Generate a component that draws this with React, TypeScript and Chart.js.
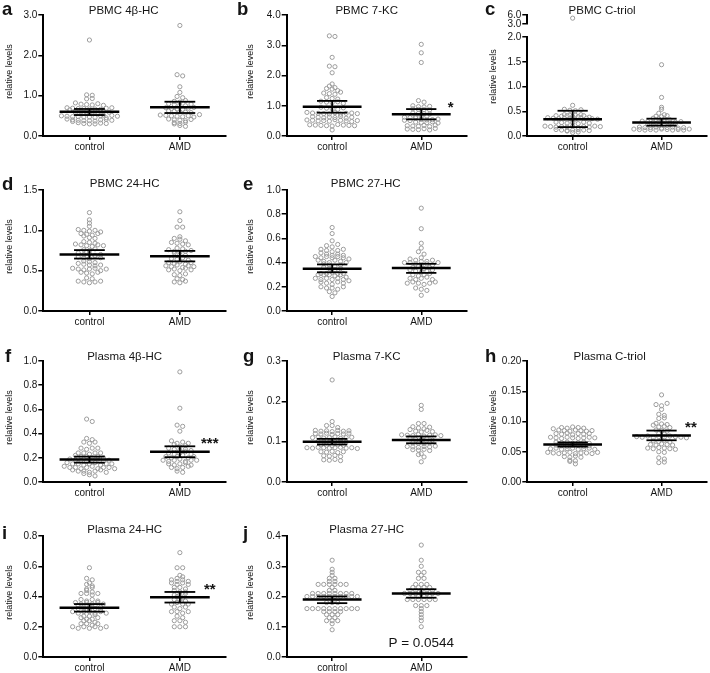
import React, { useEffect, useRef } from "react";
import { Chart, registerables } from "chart.js";
Chart.register(...registerables);

const FONT = '"Liberation Sans", Arial, Helvetica, sans-serif';
Chart.defaults.font.family = FONT;

const groups = ["control", "AMD"];

// ---------- data (relative levels) ----------
const aControl = [2.38, 1.02, 1.01, 0.92, 0.93, 0.82, 0.79, 0.78, 0.77, 0.8, 0.76, 0.7, 0.69, 0.68, 0.68, 0.67, 0.67, 0.66, 0.69, 0.7, 0.65, 0.62, 0.61, 0.6, 0.6, 0.59, 0.58, 0.58, 0.57, 0.61, 0.59, 0.56, 0.55, 0.52, 0.5, 0.49, 0.48, 0.48, 0.47, 0.47, 0.46, 0.5, 0.45, 0.51, 0.49, 0.42, 0.4, 0.39, 0.38, 0.38, 0.37, 0.36, 0.4, 0.41, 0.39, 0.33, 0.31, 0.3, 0.3, 0.32, 0.31];
const aAMD = [2.74, 1.52, 1.49, 1.22, 1.08, 0.98, 0.95, 0.86, 0.84, 0.88, 0.8, 0.78, 0.76, 0.75, 0.79, 0.7, 0.68, 0.67, 0.66, 0.69, 0.71, 0.62, 0.61, 0.6, 0.59, 0.58, 0.52, 0.51, 0.5, 0.49, 0.48, 0.5, 0.47, 0.53, 0.42, 0.4, 0.39, 0.38, 0.41, 0.33, 0.31, 0.34, 0.3, 0.26, 0.24];
const aMean = [0.6, 0.71];
const aLow = [0.52, 0.57];
const aHigh = [0.67, 0.85];

const bControl = [3.31, 3.29, 2.6, 2.31, 2.29, 2.09, 1.72, 1.65, 1.6, 1.57, 1.55, 1.5, 1.42, 1.4, 1.38, 1.45, 1.27, 1.24, 1.22, 1.15, 1.12, 1.1, 1.13, 1.08, 0.95, 0.92, 0.9, 0.88, 0.93, 0.78, 0.76, 0.75, 0.74, 0.73, 0.77, 0.72, 0.75, 0.76, 0.74, 0.64, 0.62, 0.6, 0.63, 0.61, 0.65, 0.59, 0.62, 0.53, 0.52, 0.5, 0.51, 0.49, 0.54, 0.52, 0.5, 0.48, 0.51, 0.37, 0.36, 0.35, 0.34, 0.33, 0.38, 0.36, 0.35, 0.34, 0.2];
const bAMD = [3.03, 2.75, 2.43, 1.17, 1.12, 1.0, 0.97, 0.96, 0.98, 0.9, 0.88, 0.87, 0.86, 0.76, 0.75, 0.74, 0.73, 0.64, 0.62, 0.61, 0.6, 0.63, 0.65, 0.55, 0.53, 0.52, 0.51, 0.54, 0.56, 0.46, 0.45, 0.44, 0.47, 0.43, 0.34, 0.33, 0.32, 0.35, 0.31, 0.36, 0.23, 0.22, 0.21, 0.24, 0.2, 0.25];
const bMean = [0.97, 0.72];
const bLow = [0.77, 0.55];
const bHigh = [1.16, 0.89];

const cControl = [4.95, 0.62, 0.54, 0.52, 0.51, 0.53, 0.43, 0.42, 0.41, 0.4, 0.42, 0.41, 0.43, 0.4, 0.39, 0.41, 0.37, 0.36, 0.35, 0.36, 0.35, 0.34, 0.37, 0.36, 0.35, 0.38, 0.34, 0.28, 0.27, 0.26, 0.27, 0.25, 0.28, 0.26, 0.2, 0.19, 0.18, 0.19, 0.18, 0.2, 0.17, 0.19, 0.18, 0.2, 0.19, 0.13, 0.12, 0.11, 0.12, 0.1, 0.13, 0.12, 0.11, 0.07, 0.08];
const cAMD = [1.44, 0.78, 0.58, 0.54, 0.46, 0.43, 0.4, 0.39, 0.41, 0.36, 0.35, 0.34, 0.33, 0.3, 0.29, 0.28, 0.29, 0.3, 0.27, 0.28, 0.29, 0.23, 0.22, 0.21, 0.22, 0.23, 0.24, 0.18, 0.17, 0.17, 0.18, 0.16, 0.17, 0.18, 0.16, 0.17, 0.14, 0.13, 0.12, 0.13, 0.12, 0.14, 0.13, 0.12, 0.13, 0.12, 0.14];
const cMean = [0.34, 0.275];
const cLow = [0.18, 0.21];
const cHigh = [0.51, 0.35];

const dControl = [1.22, 1.13, 1.09, 1.05, 1.01, 1.0, 0.99, 1.0, 0.98, 0.96, 0.95, 0.94, 0.96, 0.93, 0.91, 0.9, 0.86, 0.85, 0.84, 0.83, 0.82, 0.81, 0.8, 0.82, 0.81, 0.76, 0.75, 0.77, 0.72, 0.7, 0.71, 0.69, 0.7, 0.67, 0.66, 0.65, 0.68, 0.66, 0.62, 0.61, 0.6, 0.59, 0.58, 0.57, 0.56, 0.57, 0.53, 0.52, 0.51, 0.52, 0.53, 0.5, 0.52, 0.48, 0.47, 0.46, 0.48, 0.41, 0.4, 0.37, 0.36, 0.35, 0.36, 0.37];
const dAMD = [1.23, 1.12, 1.04, 1.04, 0.92, 0.9, 0.89, 0.87, 0.85, 0.84, 0.83, 0.82, 0.78, 0.77, 0.76, 0.74, 0.73, 0.72, 0.74, 0.75, 0.7, 0.69, 0.65, 0.64, 0.66, 0.63, 0.6, 0.59, 0.61, 0.58, 0.6, 0.56, 0.55, 0.57, 0.54, 0.56, 0.55, 0.51, 0.52, 0.5, 0.53, 0.51, 0.45, 0.44, 0.46, 0.4, 0.39, 0.36, 0.35, 0.37];
const dMean = [0.7, 0.68];
const dLow = [0.65, 0.615];
const dHigh = [0.755, 0.745];

const eControl = [0.69, 0.64, 0.58, 0.54, 0.53, 0.55, 0.51, 0.5, 0.49, 0.5, 0.51, 0.48, 0.47, 0.46, 0.47, 0.45, 0.44, 0.45, 0.46, 0.44, 0.45, 0.44, 0.43, 0.42, 0.41, 0.4, 0.42, 0.41, 0.4, 0.39, 0.38, 0.37, 0.38, 0.36, 0.35, 0.34, 0.35, 0.31, 0.3, 0.31, 0.3, 0.32, 0.31, 0.3, 0.29, 0.3, 0.31, 0.27, 0.26, 0.27, 0.28, 0.26, 0.27, 0.26, 0.25, 0.24, 0.23, 0.22, 0.24, 0.23, 0.2, 0.19, 0.19, 0.18, 0.2, 0.16, 0.15, 0.12];
const eAMD = [0.85, 0.68, 0.56, 0.52, 0.49, 0.47, 0.44, 0.43, 0.42, 0.41, 0.4, 0.41, 0.42, 0.4, 0.39, 0.38, 0.39, 0.38, 0.4, 0.36, 0.37, 0.35, 0.36, 0.34, 0.33, 0.32, 0.33, 0.34, 0.3, 0.29, 0.3, 0.31, 0.27, 0.26, 0.27, 0.28, 0.26, 0.23, 0.24, 0.23, 0.22, 0.23, 0.24, 0.19, 0.18, 0.17, 0.13];
const eMean = [0.35, 0.355];
const eLow = [0.32, 0.315];
const eHigh = [0.385, 0.39];

const fControl = [0.52, 0.5, 0.36, 0.35, 0.33, 0.32, 0.33, 0.28, 0.27, 0.28, 0.28, 0.24, 0.24, 0.23, 0.24, 0.24, 0.22, 0.21, 0.21, 0.2, 0.21, 0.2, 0.19, 0.18, 0.18, 0.17, 0.18, 0.19, 0.17, 0.18, 0.16, 0.15, 0.15, 0.14, 0.15, 0.16, 0.14, 0.15, 0.15, 0.13, 0.12, 0.12, 0.11, 0.12, 0.13, 0.11, 0.12, 0.12, 0.11, 0.1, 0.09, 0.09, 0.08, 0.09, 0.1, 0.08, 0.07, 0.06, 0.05];
const fAMD = [0.91, 0.61, 0.47, 0.46, 0.42, 0.34, 0.32, 0.31, 0.33, 0.32, 0.29, 0.3, 0.28, 0.27, 0.26, 0.27, 0.26, 0.24, 0.23, 0.24, 0.25, 0.23, 0.21, 0.2, 0.21, 0.22, 0.2, 0.21, 0.18, 0.17, 0.18, 0.19, 0.17, 0.18, 0.18, 0.15, 0.14, 0.15, 0.16, 0.14, 0.12, 0.11, 0.12, 0.13, 0.09, 0.08];
const fMean = [0.185, 0.25];
const fLow = [0.16, 0.205];
const fHigh = [0.21, 0.295];

const gControl = [0.253, 0.15, 0.14, 0.14, 0.135, 0.128, 0.126, 0.127, 0.125, 0.128, 0.126, 0.127, 0.12, 0.119, 0.121, 0.118, 0.12, 0.119, 0.121, 0.11, 0.111, 0.109, 0.11, 0.112, 0.108, 0.11, 0.111, 0.101, 0.1, 0.099, 0.1, 0.101, 0.099, 0.092, 0.091, 0.09, 0.092, 0.091, 0.085, 0.084, 0.086, 0.085, 0.084, 0.085, 0.086, 0.084, 0.085, 0.083, 0.075, 0.074, 0.076, 0.073, 0.075, 0.065, 0.064, 0.066, 0.063, 0.055, 0.054, 0.056, 0.053];
const gAMD = [0.19, 0.18, 0.145, 0.145, 0.137, 0.134, 0.132, 0.136, 0.13, 0.126, 0.124, 0.128, 0.125, 0.117, 0.116, 0.115, 0.118, 0.114, 0.116, 0.117, 0.115, 0.107, 0.106, 0.105, 0.107, 0.104, 0.097, 0.096, 0.095, 0.097, 0.088, 0.087, 0.086, 0.088, 0.087, 0.089, 0.08, 0.079, 0.081, 0.078, 0.07, 0.068, 0.062, 0.05];
const gMean = [0.1, 0.104];
const gLow = [0.093, 0.096];
const gHigh = [0.107, 0.113];

const hControl = [0.09, 0.089, 0.091, 0.09, 0.089, 0.088, 0.086, 0.085, 0.084, 0.086, 0.085, 0.084, 0.085, 0.08, 0.079, 0.081, 0.078, 0.08, 0.079, 0.08, 0.074, 0.073, 0.072, 0.074, 0.073, 0.072, 0.073, 0.074, 0.073, 0.066, 0.065, 0.066, 0.064, 0.065, 0.066, 0.064, 0.061, 0.06, 0.059, 0.061, 0.06, 0.059, 0.06, 0.055, 0.056, 0.054, 0.055, 0.056, 0.054, 0.055, 0.056, 0.054, 0.049, 0.048, 0.047, 0.048, 0.049, 0.047, 0.048, 0.048, 0.047, 0.049, 0.042, 0.041, 0.043, 0.041, 0.036, 0.035, 0.034, 0.03];
const hAMD = [0.144, 0.128, 0.126, 0.13, 0.12, 0.112, 0.11, 0.105, 0.106, 0.097, 0.096, 0.095, 0.094, 0.091, 0.092, 0.09, 0.086, 0.085, 0.084, 0.08, 0.079, 0.075, 0.074, 0.076, 0.073, 0.075, 0.074, 0.076, 0.075, 0.074, 0.073, 0.068, 0.067, 0.069, 0.066, 0.062, 0.061, 0.063, 0.062, 0.061, 0.056, 0.055, 0.057, 0.056, 0.055, 0.054, 0.05, 0.049, 0.04, 0.038, 0.032, 0.033];
const hMean = [0.062, 0.077];
const hLow = [0.0585, 0.069];
const hHigh = [0.0655, 0.085];

const iControl = [0.59, 0.52, 0.51, 0.49, 0.48, 0.47, 0.45, 0.46, 0.44, 0.42, 0.42, 0.43, 0.41, 0.42, 0.38, 0.37, 0.38, 0.36, 0.35, 0.36, 0.37, 0.35, 0.36, 0.35, 0.34, 0.33, 0.34, 0.34, 0.33, 0.32, 0.32, 0.31, 0.32, 0.3, 0.29, 0.3, 0.3, 0.29, 0.3, 0.31, 0.29, 0.27, 0.27, 0.26, 0.28, 0.25, 0.24, 0.25, 0.26, 0.24, 0.22, 0.22, 0.21, 0.23, 0.22, 0.2, 0.19, 0.2, 0.19, 0.2, 0.19, 0.2];
const iAMD = [0.69, 0.59, 0.59, 0.54, 0.52, 0.53, 0.51, 0.5, 0.51, 0.5, 0.49, 0.48, 0.49, 0.48, 0.46, 0.46, 0.45, 0.44, 0.43, 0.43, 0.41, 0.41, 0.4, 0.42, 0.38, 0.38, 0.37, 0.39, 0.35, 0.36, 0.35, 0.35, 0.33, 0.32, 0.33, 0.3, 0.3, 0.29, 0.3, 0.27, 0.26, 0.24, 0.24, 0.23, 0.2, 0.2, 0.2];
const iMean = [0.325, 0.395];
const iLow = [0.3, 0.36];
const iHigh = [0.35, 0.43];

const jControl = [0.32, 0.29, 0.28, 0.27, 0.26, 0.26, 0.25, 0.24, 0.24, 0.24, 0.24, 0.24, 0.25, 0.24, 0.23, 0.22, 0.22, 0.21, 0.21, 0.21, 0.21, 0.21, 0.21, 0.21, 0.21, 0.2, 0.2, 0.2, 0.2, 0.2, 0.2, 0.2, 0.2, 0.2, 0.2, 0.18, 0.18, 0.18, 0.16, 0.16, 0.16, 0.16, 0.16, 0.16, 0.16, 0.16, 0.16, 0.16, 0.15, 0.15, 0.15, 0.15, 0.14, 0.14, 0.14, 0.13, 0.13, 0.12, 0.12, 0.12, 0.11, 0.09];
const jAMD = [0.37, 0.32, 0.3, 0.28, 0.27, 0.28, 0.26, 0.26, 0.24, 0.24, 0.24, 0.23, 0.23, 0.23, 0.23, 0.22, 0.22, 0.22, 0.22, 0.22, 0.21, 0.21, 0.21, 0.21, 0.21, 0.21, 0.21, 0.2, 0.2, 0.2, 0.2, 0.19, 0.19, 0.19, 0.19, 0.19, 0.19, 0.17, 0.17, 0.17, 0.16, 0.15, 0.14, 0.13, 0.12, 0.1];
const jMean = [0.19, 0.21];
const jLow = [0.178, 0.196];
const jHigh = [0.2, 0.224];

// ---------- layout ----------
const X_MIN = 0.49;
const X_MAX = 2.51;
const AXW = 36;
const XH = 16;
const DOT = 5.6;
const ROWH = 2.8;
const GRAY = "#9c9c9c";
const INK = "#141414";

const COLS = [
  { cx: 0, w: 235, axisX: 43.3, right: 226, yTitleX: 9.7 },
  { cx: 235, w: 235, axisX: 286.7, right: 466.7, yTitleX: 16 },
  { cx: 470, w: 240, axisX: 527.3, right: 709, yTitleX: 24 },
];
const ROWS = [
  { cy: 0, h: 160, top: 15, bottom: 136, titleDy: -1, letterDy: 0 },
  { cy: 165, h: 165, top: 190, bottom: 311, titleDy: -3, letterDy: 0 },
  { cy: 335, h: 165, top: 361, bottom: 482, titleDy: -1, letterDy: 1 },
  { cy: 510, h: 163, top: 536, bottom: 657, titleDy: -3, letterDy: 3 },
];

type Note = { x: number; y: number; text: string; font: string; dy: number };
type Broken = { lowMax: number; highMin: number; highMax: number; wHigh: number; wGap: number; wLow: number };
type Spec = {
  id: string; letter: string; title: string; col: number; row: number;
  letterX: number; titleDx: number; yMax: number; yStep: number; dec: number;
  control: number[]; amd: number[]; mean: number[]; lo: number[]; hi: number[];
  notes: Note[]; broken?: Broken; rowH?: number;
};

const STAR = `bold 15px ${FONT}`;

const SPECS: Spec[] = [
  { id: "a", letter: "a", title: "PBMC 4β-HC", col: 0, row: 0, letterX: 2, titleDx: -11, yMax: 3, yStep: 1, dec: 1, control: aControl, amd: aAMD, mean: aMean, lo: aLow, hi: aHigh, notes: [] },
  { id: "b", letter: "b", title: "PBMC 7-KC", col: 1, row: 0, letterX: 2, titleDx: -10, yMax: 4, yStep: 1, dec: 1, control: bControl, amd: bAMD, mean: bMean, lo: bLow, hi: bHigh, notes: [{ x: 2.33, y: 1.06, text: "*", font: STAR, dy: 8.5 }] },
  { id: "c", letter: "c", title: "PBMC C-triol", col: 2, row: 0, letterX: 15, titleDx: -15, yMax: 2, yStep: 0.5, dec: 1, control: cControl, amd: cAMD, mean: cMean, lo: cLow, hi: cHigh, notes: [], broken: { lowMax: 2, highMin: 3, highMax: 6, wHigh: 9, wGap: 13, wLow: 99 }, rowH: 1.6 },
  { id: "d", letter: "d", title: "PBMC 24-HC", col: 0, row: 1, letterX: 2, titleDx: -10, yMax: 1.5, yStep: 0.5, dec: 1, control: dControl, amd: dAMD, mean: dMean, lo: dLow, hi: dHigh, notes: [] },
  { id: "e", letter: "e", title: "PBMC 27-HC", col: 1, row: 1, letterX: 8, titleDx: -11, yMax: 1.0, yStep: 0.2, dec: 1, control: eControl, amd: eAMD, mean: eMean, lo: eLow, hi: eHigh, notes: [] },
  { id: "f", letter: "f", title: "Plasma 4β-HC", col: 0, row: 2, letterX: 5, titleDx: -10, yMax: 1.0, yStep: 0.2, dec: 1, control: fControl, amd: fAMD, mean: fMean, lo: fLow, hi: fHigh, notes: [{ x: 2.33, y: 0.35, text: "***", font: STAR, dy: 8.5 }] },
  { id: "g", letter: "g", title: "Plasma 7-KC", col: 1, row: 2, letterX: 8, titleDx: -10, yMax: 0.3, yStep: 0.1, dec: 1, control: gControl, amd: gAMD, mean: gMean, lo: gLow, hi: gHigh, notes: [] },
  { id: "h", letter: "h", title: "Plasma C-triol", col: 2, row: 2, letterX: 15, titleDx: -7.5, yMax: 0.2, yStep: 0.05, dec: 2, control: hControl, amd: hAMD, mean: hMean, lo: hLow, hi: hHigh, notes: [{ x: 2.33, y: 0.096, text: "**", font: STAR, dy: 8.5 }] },
  { id: "i", letter: "i", title: "Plasma 24-HC", col: 0, row: 3, letterX: 2, titleDx: -10, yMax: 0.8, yStep: 0.2, dec: 1, control: iControl, amd: iAMD, mean: iMean, lo: iLow, hi: iHigh, notes: [{ x: 2.33, y: 0.473, text: "**", font: STAR, dy: 8.5 }] },
  { id: "j", letter: "j", title: "Plasma 27-HC", col: 1, row: 3, letterX: 8, titleDx: -10, yMax: 0.4, yStep: 0.1, dec: 1, control: jControl, amd: jAMD, mean: jMean, lo: jLow, hi: jHigh, notes: [{ x: 2, y: 0.05, text: "P = 0.0544", font: `13.5px ${FONT}`, dy: 4.8 }] },
];

// scatter-dot-plot layout: values grouped into horizontal rows (rowH px tall),
// each row centred on the column; returns x offsets in data units
function swarm(vals: number[], ypx: number, xpx: number, rowH: number): number[] {
  const order = vals.map((_, i) => i).sort((a, b) => vals[a] - vals[b]);
  const out: number[] = new Array(vals.length).fill(0);
  let row: number[] = [];
  let start = 0;
  const flush = () => {
    const members = row.slice().sort((p, q) => p - q);
    const m = members.length;
    members.forEach((i, k) => { out[i] = ((k - (m - 1) / 2) * DOT) / xpx; });
    row = [];
  };
  for (const i of order) {
    const y = vals[i] * ypx;
    if (row.length && y - start > rowH) flush();
    if (!row.length) start = y;
    row.push(i);
  }
  if (row.length) flush();
  return out;
}

function yScale(min: number, max: number, step: number, dec: number, extra: any = {}) {
  return {
    type: "linear",
    position: "left",
    min,
    max,
    afterFit: (sc: any) => { sc.width = AXW; },
    border: { display: true, color: "#000", width: 2 },
    grid: { display: true, drawOnChartArea: false, drawTicks: true, tickLength: 5, color: "#000", lineWidth: 1.5 },
    ticks: { stepSize: step, autoSkip: false, padding: 1, color: INK, font: { size: 10, family: FONT }, callback: (v: any) => Number(v).toFixed(dec) },
    ...extra,
  };
}

function buildConfig(s: Spec): any {
  const col = COLS[s.col];
  const row = ROWS[s.row];
  const plotW = col.right - col.axisX;
  const plotH = row.bottom - row.top;
  const xpx = plotW / (X_MAX - X_MIN);
  const br = s.broken;
  const lowMax = br ? br.lowMax : s.yMax;
  const lowH = br ? (plotH * br.wLow) / (br.wHigh + br.wGap + br.wLow) : plotH;
  const ypx = lowH / lowMax;

  const datasets: any[] = [];
  const MH = 0.33;
  const CH = 0.17;
  const line = (pts: { x: number; y: number }[], w: number) => ({
    data: pts, showLine: true, borderColor: "#000", borderWidth: w, pointRadius: 0, pointHoverRadius: 0,
    borderCapStyle: "butt", order: 0, clip: false, xAxisID: "x", yAxisID: "y",
  });
  [s.control, s.amd].forEach((vals, g) => {
    const c = g + 1;
    const low = vals.filter((v) => v <= lowMax);
    const high = vals.filter((v) => v > lowMax);
    const offs = swarm(low, ypx, xpx, s.rowH ?? ROWH);
    datasets.push({
      label: groups[g],
      data: low.map((v, i) => ({ x: c + offs[i], y: v })),
      pointRadius: 2.1, pointHoverRadius: 2.1, borderWidth: 1, borderColor: GRAY,
      backgroundColor: "rgba(0,0,0,0)", order: 1, clip: false, xAxisID: "x", yAxisID: "y",
    });
    if (high.length) {
      datasets.push({
        label: groups[g] + " (high)",
        data: high.map((v) => ({ x: c, y: v })),
        pointRadius: 2.1, pointHoverRadius: 2.1, borderWidth: 1, borderColor: GRAY,
        backgroundColor: "rgba(0,0,0,0)", order: 1, clip: false, xAxisID: "x", yAxisID: "yHigh",
      });
    }
    datasets.push(line([{ x: c - MH, y: s.mean[g] }, { x: c + MH, y: s.mean[g] }], 2.5));
    datasets.push(line([{ x: c, y: s.lo[g] }, { x: c, y: s.hi[g] }], 1.8));
    datasets.push(line([{ x: c - CH, y: s.hi[g] }, { x: c + CH, y: s.hi[g] }], 1.8));
    datasets.push(line([{ x: c - CH, y: s.lo[g] }, { x: c + CH, y: s.lo[g] }], 1.8));
  });

  const scales: any = {
    x: {
      type: "linear",
      position: "bottom",
      min: X_MIN,
      max: X_MAX,
      afterFit: (sc: any) => { sc.height = XH; },
      afterBuildTicks: (sc: any) => { sc.ticks = [{ value: 1 }, { value: 2 }]; },
      border: { display: true, color: "#000", width: 2 },
      grid: { display: true, drawOnChartArea: false, drawTicks: true, tickLength: 4, color: "#000", lineWidth: 1.5 },
      ticks: { autoSkip: false, maxRotation: 0, padding: 1, color: INK, font: { size: 10, family: FONT }, callback: (v: any) => groups[Math.round(v) - 1] ?? "" },
    },
  };
  if (br) {
    scales.y = yScale(0, br.lowMax, s.yStep, s.dec, { stack: "brk", stackWeight: br.wLow });
    scales.yGap = {
      type: "linear", position: "left", min: 0, max: 1, stack: "brk", stackWeight: br.wGap,
      afterFit: (sc: any) => { sc.width = AXW; },
      border: { display: false }, grid: { display: false }, ticks: { display: false },
    };
    scales.yHigh = yScale(br.highMin, br.highMax, br.highMax - br.highMin, s.dec, { stack: "brk", stackWeight: br.wHigh });
  } else {
    scales.y = yScale(0, s.yMax, s.yStep, s.dec);
  }

  const padL = col.axisX - col.cx - AXW;
  const padR = col.cx + col.w - col.right;
  const padT = row.top - row.cy;
  const padB = row.cy + row.h - row.bottom - XH;

  const textPlugin = {
    id: "panelText" + s.id,
    afterDraw(chart: any) {
      const { ctx, chartArea: ca } = chart;
      ctx.save();
      ctx.fillStyle = INK;
      ctx.textBaseline = "alphabetic";
      ctx.textAlign = "left";
      ctx.font = `bold 18.5px ${FONT}`;
      ctx.fillText(s.letter, s.letterX, ca.top + row.letterDy);
      ctx.textAlign = "center";
      ctx.font = `11.5px ${FONT}`;
      ctx.fillText(s.title, (ca.left + ca.right) / 2 + s.titleDx, ca.top + row.titleDy);
      ctx.save();
      ctx.translate(col.yTitleX, (ca.top + ca.bottom) / 2 + (br ? 1 : -4));
      ctx.rotate(-Math.PI / 2);
      ctx.textBaseline = "middle";
      ctx.font = `9px ${FONT}`;
      ctx.fillText("relative levels", 0, 0);
      ctx.restore();
      for (const n of s.notes) {
        const x = chart.scales.x.getPixelForValue(n.x);
        const y = chart.scales.y.getPixelForValue(n.y);
        ctx.font = n.font;
        ctx.textAlign = "center";
        ctx.textBaseline = "alphabetic";
        ctx.fillText(n.text, x, y + n.dy);
      }
      ctx.restore();
    },
  };

  return {
    type: "scatter",
    data: { datasets },
    options: {
      responsive: false,
      animation: false,
      events: [],
      layout: { padding: { left: padL, right: padR, top: padT, bottom: padB } },
      plugins: { legend: { display: false }, tooltip: { enabled: false }, title: { display: false } },
      scales,
    },
    plugins: [textPlugin],
  };
}

function Panel({ spec }: { spec: Spec }) {
  const ref = useRef<HTMLCanvasElement>(null);
  useEffect(() => {
    const chart = new Chart(ref.current as HTMLCanvasElement, buildConfig(spec));
    return () => chart.destroy();
  }, [spec]);
  const col = COLS[spec.col];
  const row = ROWS[spec.row];
  return (
    <canvas
      ref={ref}
      width={col.w}
      height={row.h}
      style={{ position: "absolute", left: col.cx, top: row.cy, width: col.w, height: row.h }}
    />
  );
}

export default function App() {
  return (
    <div style={{ position: "absolute", left: 0, top: 0, width: 710, height: 673, overflow: "hidden", background: "#fff" }}>
      {SPECS.map((s) => (
        <Panel key={s.id} spec={s} />
      ))}
    </div>
  );
}
